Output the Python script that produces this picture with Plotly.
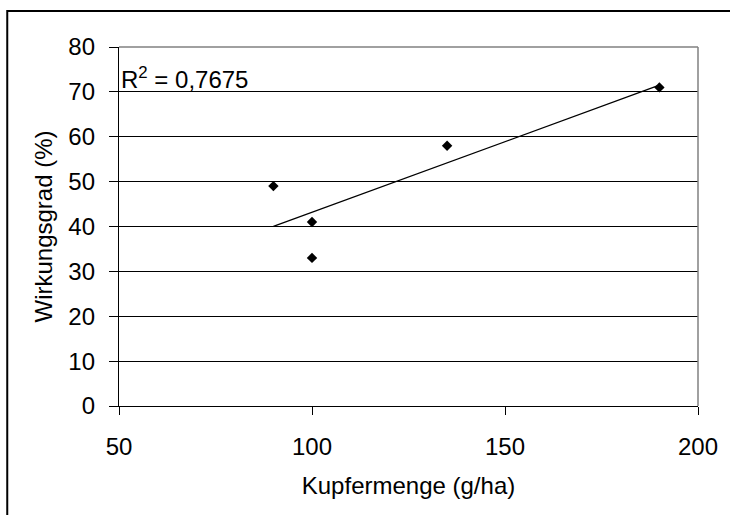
import numpy as np
import plotly.graph_objects as go

kupfer = [90, 100, 100, 135, 190]
wirkung = [49, 41, 33, 58, 71]
x_ticks = [50, 100, 150, 200]
y_ticks = [0, 10, 20, 30, 40, 50, 60, 70, 80]
r2_label = "R<sup>2</sup> = 0,7675"

# linear trendline (least squares), from the data
slope, intercept = np.polyfit(kupfer, wirkung, 1)
tx = [min(kupfer), max(kupfer)]
ty = [slope * v + intercept for v in tx]

FONT = "Liberation Sans, Arial, sans-serif"
FS = 24

fig = go.Figure()
fig.add_trace(go.Scatter(x=tx, y=ty, mode="lines",
                         line=dict(color="black", width=1.3),
                         hoverinfo="skip", showlegend=False))
fig.add_trace(go.Scatter(x=kupfer, y=wirkung, mode="markers",
                         marker=dict(symbol="diamond", size=8, color="black"),
                         showlegend=False))

fig.update_layout(
    width=730, height=515,
    margin=dict(l=119, r=30, t=47, b=109),
    paper_bgcolor="white", plot_bgcolor="white",
    font=dict(family=FONT, size=FS, color="black"),
    xaxis=dict(range=[50, 200], tickvals=x_ticks, showgrid=False,
               zeroline=False, showline=True, linecolor="black", linewidth=1.3,
               ticks="outside", ticklen=8, tickcolor="black", tickwidth=1,
               ticklabelstandoff=11,
               tickfont=dict(size=FS, family=FONT),
               title=dict(text="Kupfermenge (g/ha)", font=dict(size=FS, family=FONT), standoff=18)),
    yaxis=dict(range=[0, 80], tickvals=y_ticks, showgrid=True,
               gridcolor="black", gridwidth=1,
               zeroline=False, showline=True, linecolor="black", linewidth=1.3,
               ticks="outside", ticklen=9, tickcolor="black", tickwidth=1,
               ticklabelstandoff=9,
               tickfont=dict(size=FS, family=FONT),
               title=dict(text="Wirkungsgrad (%)", font=dict(size=FS, family=FONT), standoff=8)),
    shapes=[
        dict(type="line", xref="paper", yref="paper", x0=0, x1=1, y0=1, y1=1,
             line=dict(color="#808080", width=1.5), layer="above"),
        dict(type="line", xref="paper", yref="paper", x0=1, x1=1, y0=0, y1=1,
             line=dict(color="#808080", width=1.5), layer="above"),
        dict(type="rect", xref="paper", yref="paper", x0=-0.193, x1=1.3,
             y0=-0.6, y1=1.1, line=dict(color="black", width=2), layer="above"),
    ],
    annotations=[
        dict(text=r2_label, xref="paper", yref="y", x=0.0, y=73.0,
             xanchor="left", yanchor="middle", showarrow=False,
             font=dict(size=FS, family=FONT)),
    ],
)

fig.write_html("out.html")
